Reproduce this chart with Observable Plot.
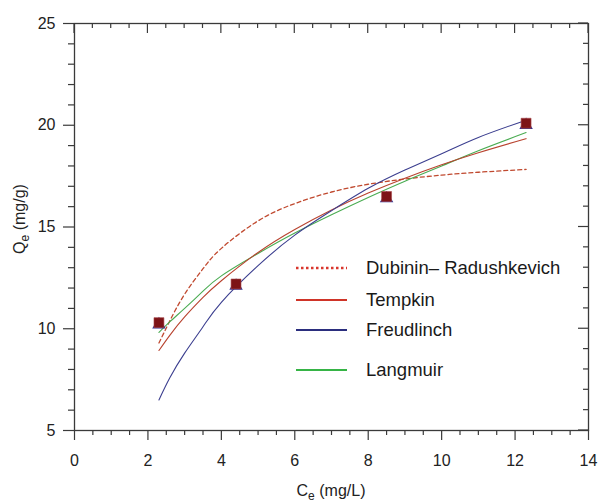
<!DOCTYPE html>
<html>
<head>
<meta charset="utf-8">
<script src="https://cdn.jsdelivr.net/npm/d3@7"></script>
<script src="https://cdn.jsdelivr.net/npm/@observablehq/plot@0.6"></script>
<style>
  html, body { margin: 0; padding: 0; background: #fff; }
  #chart { width: 598px; height: 502px; }
</style>
</head>
<body>
<div id="chart"></div>
<script>
// Experimental points
const ceData = [2.3, 4.4, 8.5, 12.3];
const qeData = [10.3, 12.2, 16.5, 20.1];

// Model curves
const curveCe = [2.3, 2.6, 3, 3.5, 4, 5, 6, 7, 8, 9, 10, 11, 12.3];
const drQe    = [9.3, 10.4, 11.7, 12.95, 13.95, 15.3, 16.15, 16.72, 17.1, 17.36, 17.55, 17.69, 17.83];
const tempkinQe = [8.93, 9.69, 10.58, 11.54, 12.36, 13.75, 14.88, 15.84, 16.67, 17.4, 18.06, 18.65, 19.34];
const freundQe  = [6.5, 7.6, 8.8, 10.1, 11.3, 13.1, 14.6, 15.8, 16.9, 17.8, 18.6, 19.4, 20.25];
const langQe    = [9.82, 10.35, 11.0, 11.85, 12.6, 13.7, 14.7, 15.6, 16.45, 17.25, 18.0, 18.75, 19.64];

// Ticks
const xMajor = [0, 2, 4, 6, 8, 10, 12, 14];
const xMinor = d3.range(0, 14.001, 0.5).filter(v => v % 2 !== 0);
const yMajor = [5, 10, 15, 20, 25];
const yMinor = d3.range(5, 25.001, 1).filter(v => v % 5 !== 0);

const legendNames = ["Dubinin\u2013 Radushkevich", "Tempkin", "Freudlinch", "Langmuir"];

const points = ceData.map((c, i) => ({c, q: qeData[i]}));
const mk = arr => curveCe.map((c, i) => ({c, q: arr[i]}));

const W = 598, H = 502;
const mL = 74, mR = 10, mT = 23, mB = 72;
const axisColor = "#3a3a3a";
const font = "'Liberation Sans', Arial, sans-serif";

const plot = Plot.plot({
  width: W,
  height: H,
  marginLeft: mL, marginRight: mR, marginTop: mT, marginBottom: mB,
  style: {fontFamily: font, fontSize: "16px", color: "#222", background: "#fff"},
  x: {domain: [0, 14], label: null},
  y: {domain: [5, 25], label: null},
  marks: [
    // bottom axis
    Plot.axisX({ticks: xMajor, tickSize: 10, tickPadding: 14, fontSize: 16, stroke: axisColor, strokeWidth: 1.2, label: null}),
    Plot.axisX({ticks: xMinor, tickSize: 5, text: null, stroke: axisColor, strokeWidth: 1.2, label: null}),
    // left axis
    Plot.axisY({ticks: yMajor, tickSize: 11, tickPadding: 8, fontSize: 16, stroke: axisColor, strokeWidth: 1.2, label: null}),
    Plot.axisY({ticks: yMinor, tickSize: 6, text: null, stroke: axisColor, strokeWidth: 1.2, label: null}),
    Plot.frame({stroke: axisColor, strokeWidth: 1.3}),
    // curves
    Plot.line(mk(drQe), {x: "c", y: "q", curve: "natural", stroke: "#c0492f", strokeWidth: 1.3, strokeDasharray: "4,3"}),
    Plot.line(mk(langQe), {x: "c", y: "q", curve: "natural", stroke: "#4aac52", strokeWidth: 1.1}),
    Plot.line(mk(tempkinQe), {x: "c", y: "q", curve: "natural", stroke: "#b8432f", strokeWidth: 1.1}),
    Plot.line(mk(freundQe), {x: "c", y: "q", curve: "natural", stroke: "#3b3e8f", strokeWidth: 1.1}),
    // experimental points (blue triangle beneath, red square on top)
    Plot.dot(points, {x: "c", y: "q", symbol: "triangle", r: 5, fill: "#2e3192", dy: 2}),
    Plot.dot(points, {x: "c", y: "q", symbol: "square", r: 5.6, fill: "#7d1316", stroke: "#a8464a", strokeWidth: 0.6})
  ]
});

document.getElementById("chart").appendChild(plot);

const svg = d3.select(plot);
const xs = plot.scale("x"), ys = plot.scale("y");
const x0 = mL, x1 = W - mR, y0 = mT, y1 = H - mB;

// Inward ticks on top and right edges (via Plot's scales)
const tg = svg.append("g").attr("stroke", axisColor).attr("stroke-width", 1.2);
xMajor.forEach(v => { const px = xs.apply(v); tg.append("line").attr("x1", px).attr("x2", px).attr("y1", y0).attr("y2", y0 + 10); });
xMinor.forEach(v => { const px = xs.apply(v); tg.append("line").attr("x1", px).attr("x2", px).attr("y1", y0).attr("y2", y0 + 5); });
yMajor.forEach(v => { const py = ys.apply(v); tg.append("line").attr("y1", py).attr("y2", py).attr("x1", x1).attr("x2", x1 - 10); });
yMinor.forEach(v => { const py = ys.apply(v); tg.append("line").attr("y1", py).attr("y2", py).attr("x1", x1).attr("x2", x1 - 5); });

// Axis titles
const xt = svg.append("text")
  .attr("x", 331).attr("y", 496)
  .attr("text-anchor", "middle")
  .attr("font-family", font).attr("font-size", 16).attr("fill", "#222");
xt.append("tspan").text("C");
xt.append("tspan").attr("font-size", 12).attr("dy", 4).text("e");
xt.append("tspan").attr("dy", -4).text(" (mg/L)");

const yt = svg.append("text")
  .attr("transform", "translate(25,219) rotate(-90)")
  .attr("text-anchor", "middle")
  .attr("font-family", font).attr("font-size", 16).attr("fill", "#222");
yt.append("tspan").text("Q");
yt.append("tspan").attr("font-size", 12).attr("dy", 4).text("e");
yt.append("tspan").attr("dy", -4).text(" (mg/g)");

// Legend
const legendStyles = [
  {stroke: "#d8362c", dash: "2.5,2.5", w: 2.4},
  {stroke: "#cf3428", dash: null, w: 2.2},
  {stroke: "#2b2e7e", dash: null, w: 2.2},
  {stroke: "#36b446", dash: null, w: 2.2}
];
const legendY = [268, 300, 330, 370];
const lg = svg.append("g");
legendNames.forEach((name, i) => {
  const s = legendStyles[i];
  const ln = lg.append("line")
    .attr("x1", 296).attr("x2", 347)
    .attr("y1", legendY[i]).attr("y2", legendY[i])
    .attr("stroke", s.stroke).attr("stroke-width", s.w);
  if (s.dash) ln.attr("stroke-dasharray", s.dash);
  lg.append("text")
    .attr("x", 366).attr("y", legendY[i])
    .attr("dy", "0.35em")
    .attr("text-anchor", "start")
    .attr("font-family", font).attr("font-size", 18.5).attr("fill", "#1a1a1a")
    .text(name);
});
</script>
</body>
</html>
